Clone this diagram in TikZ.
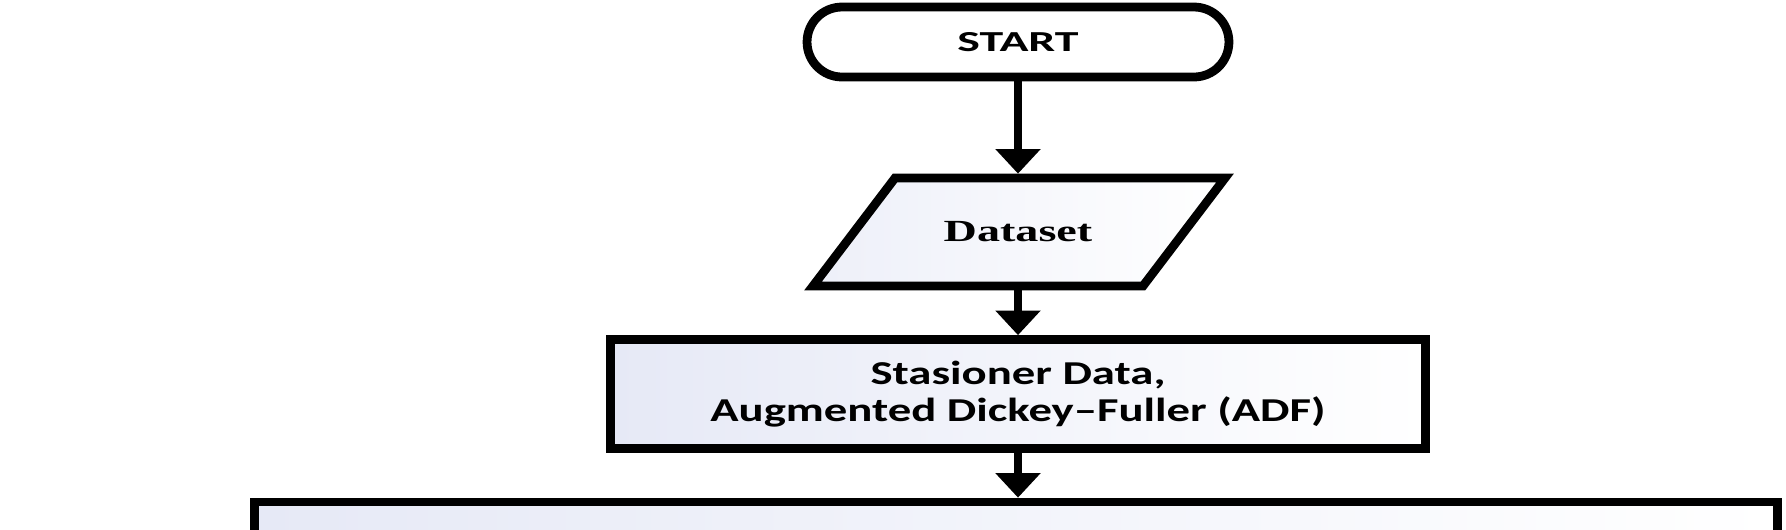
\documentclass[tikz,border=0pt]{standalone}
\usepackage{fontspec}
\usetikzlibrary{arrows.meta,calc}
\newfontfamily\StartFont[FakeStretch=1.65]{Carlito}
\newfontfamily\StepFont[FakeStretch=1.4]{Carlito}
\newfontfamily\DataFont[FakeStretch=1.5]{Liberation Serif}
\definecolor{FillClr}{RGB}{230,233,246}

\begin{document}
\begin{tikzpicture}[x=0.02cm,y=-0.02cm,
  shapeline/.style={draw=black,line width=5pt},
  flowbox/.style={shapeline,rectangle,left color=FillClr,right color=white,align=center},
  flowarrow/.style={line width=5pt,-{Triangle[width=25pt,length=14pt]}}]
\useasboundingbox (0,0) rectangle (1786,529);
\clip (0,0) rectangle (1786,529);

\node[shapeline,fill=white,rounded corners=0.7cm,minimum width=8.44cm,minimum height=1.4cm,
  font=\StartFont\bfseries\fontsize{16.5}{19}\selectfont] (start) at (1018,42) {START};

\draw[shapeline,left color=FillClr!70,right color=white] (813,286) -- (1143,286) -- (1225,178) -- (895,178) -- cycle;
\node[line width=5pt,minimum height=2.16cm,font=\DataFont\bfseries\fontsize{17.5}{20}\selectfont] (data) at (1018,232) {Dataset};

\node[flowbox,minimum width=16.3cm,minimum height=2.18cm,
  font=\StepFont\bfseries\fontsize{19}{21.5}\selectfont] (adf) at (1018,394) {Stasioner Data,\\Augmented Dickey–Fuller (ADF)};

\node[flowbox,minimum width=30.48cm,minimum height=4cm] (model) at (1016,602) {};

\draw[flowarrow] (start.south) -- (data.north);
\draw[flowarrow] (data.south) -- (adf.north);
\draw[flowarrow] (adf.south) -- (adf.south |- model.north);

\end{tikzpicture}
\end{document}
